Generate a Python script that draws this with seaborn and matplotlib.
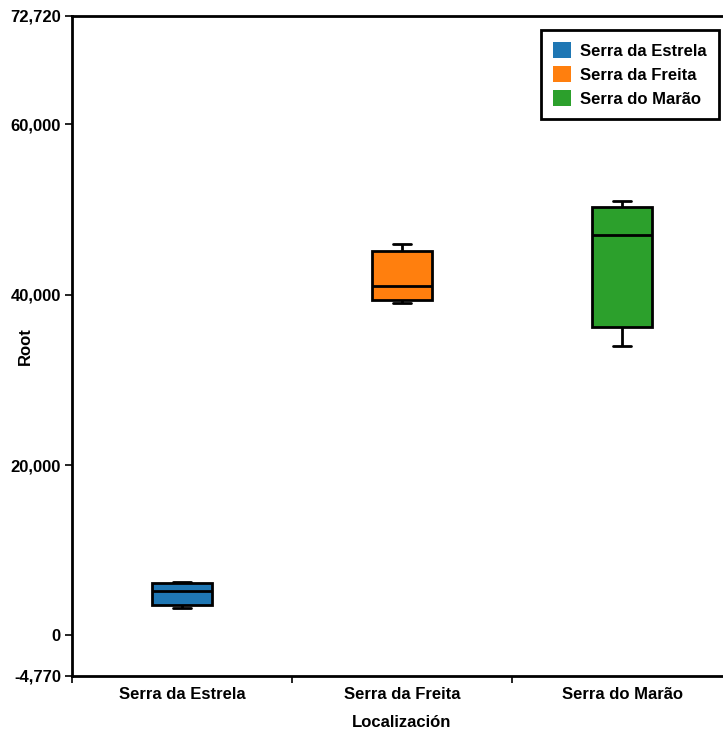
import matplotlib
matplotlib.use("Agg")
import matplotlib.pyplot as plt
import seaborn as sns
import pandas as pd

# Five-number summaries per site: whisker low, Q1, median, Q3, whisker high
locations = ["Serra da Estrela", "Serra da Freita", "Serra do Marão"]
estrela = [3170, 3520, 5160, 6100, 6300]
freita = [39030, 39330, 40980, 45120, 45980]
marao = [34020, 36250, 47000, 50290, 50950]
palette = ["#1f77b4", "#ff7f0e", "#2ca02c"]
y_ticks = [-4770, 0, 20000, 40000, 60000, 72720]

df = pd.DataFrame({
    "Localización": sum([[loc] * 5 for loc in locations], []),
    "Root": estrela + freita + marao,
})

sns.set_style("white")
plt.rcParams["font.family"] = ["Liberation Sans", "DejaVu Sans"]
plt.rcParams["font.weight"] = "bold"
plt.rcParams["text.color"] = "black"
plt.rcParams["axes.labelcolor"] = "black"
plt.rcParams["xtick.color"] = "black"
plt.rcParams["ytick.color"] = "black"

fig = plt.figure(figsize=(7.23, 7.30), dpi=100)
ax = fig.add_axes([72 / 723, 54 / 730, 660 / 723, 660 / 730])

sns.boxplot(
    data=df, x="Localización", y="Root", hue="Localización",
    order=locations, hue_order=locations, palette=palette,
    width=0.27, linewidth=2, linecolor="black", saturation=1,
    whis=10, legend=True, ax=ax,
)

# narrower whisker caps
for line in ax.lines:
    xd = line.get_xdata()
    yd = line.get_ydata()
    if len(xd) == 2 and yd[0] == yd[1] and abs(xd[1] - xd[0]) > 0.05:
        c = (xd[0] + xd[1]) / 2
        if abs(abs(xd[1] - xd[0]) - 0.27) > 0.01:
            line.set_xdata([c - 0.043, c + 0.043])

ax.set_xlim(-0.5, 2.5)
ax.set_ylim(-4770, 72720)
ax.set_yticks(y_ticks)
ax.set_yticklabels([f"{v:,}" for v in y_ticks])

# tick marks at category boundaries, labels at centers
ax.set_xticks([-0.5, 0.5, 1.5])
ax.set_xticklabels(["", "", ""])
ax.set_xticks([0, 1, 2], minor=True)
ax.set_xticklabels(locations, minor=True)
ax.tick_params(axis="x", which="minor", bottom=True, length=0, pad=8, labelsize=12)
ax.tick_params(axis="x", which="major", bottom=True, length=5, width=1.2, color="black")
ax.tick_params(axis="y", left=True, length=5, width=1.2, color="black", labelsize=12, pad=3)

for lab in ax.get_xticklabels(minor=True) + ax.get_yticklabels():
    lab.set_fontweight("bold")
    lab.set_color("black")

for side in ["left", "bottom", "top", "right"]:
    ax.spines[side].set_visible(True)
    ax.spines[side].set_color("black")
    ax.spines[side].set_linewidth(2)

ax.set_xlabel("Localización", fontsize=12, fontweight="bold", labelpad=9, color="black")
ax.set_ylabel("Root", fontsize=12, fontweight="bold", color="black")
ax.yaxis.set_label_coords(-39 / 660, 0.5)

handles, labels = ax.get_legend_handles_labels()
if ax.get_legend() is not None:
    ax.get_legend().remove()
leg = ax.legend(
    handles, labels, loc="upper right", bbox_to_anchor=(647 / 660, 1 - 14 / 660),
    frameon=True, fancybox=False, edgecolor="black", framealpha=1,
    prop={"size": 12, "weight": "bold"}, handlelength=1.05, handleheight=1.05,
    handletextpad=0.55, borderpad=0.75, labelspacing=0.45, borderaxespad=0,
)
leg.get_frame().set_linewidth(2)
for h in leg.legend_handles:
    h.set_edgecolor(h.get_facecolor())
    h.set_linewidth(0)

fig.savefig("out.png", dpi=100)
